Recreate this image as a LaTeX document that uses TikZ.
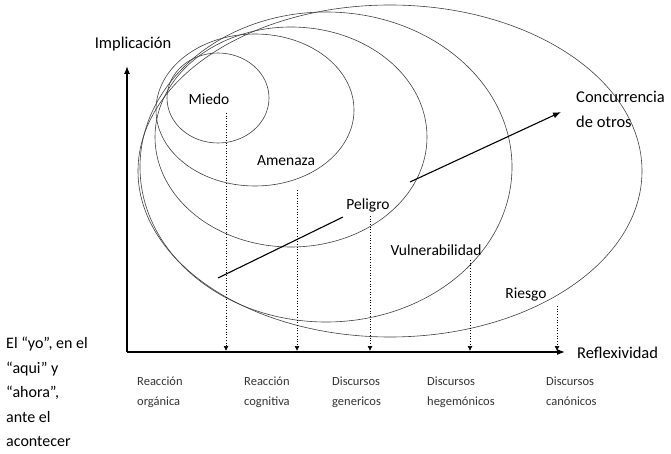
\documentclass[tikz,border=0pt]{standalone}
\usepackage{fontspec}
\setmainfont{Carlito}
\usetikzlibrary{arrows.meta}
\begin{document}
\begin{tikzpicture}[x=1pt,y=-1pt,
  ell/.style={draw=black!75, line width=0.6pt},
  axisline/.style={line width=1.3pt, -{Latex[length=8pt,width=6pt]}},
  drop/.style={dotted, line width=0.7pt, -{Latex[length=5pt,width=5pt]}},
  bigtxt/.style={font=\fontsize{16.5}{25}\selectfont, inner sep=0pt, align=left},
  lbl/.style={font=\fontsize{15.5}{17}\selectfont, inner sep=1pt},
  smalltxt/.style={font=\fontsize{12.5}{20}\selectfont, align=left, inner sep=0pt, text=black!80},
  flow/.style={line width=1.1pt}
]
\useasboundingbox (0,0) rectangle (671,454);

% nested ellipses
\draw[ell] (390,171) ellipse [x radius=252, y radius=166];
\draw[ell] (326,167) ellipse [x radius=186, y radius=155];
\draw[ell] (291,137) ellipse [x radius=136, y radius=110];
\draw[ell] (255,110) ellipse [x radius=99, y radius=76];
\draw[ell] (218,98) ellipse [x radius=51, y radius=45];

% axes
\coordinate (O) at (127,352);
\coordinate (Ytop) at (127,66);
\coordinate (Xend) at (565,352);
\draw[axisline] (O) -- (Ytop);
\draw[axisline] (O) -- (Xend);

% labels in ellipses
\node[lbl] (miedo) at (209,99) {Miedo};
\node[lbl] (amenaza) at (286,161) {Amenaza};
\node[lbl] (peligro) at (368,205) {Peligro};
\node[lbl] (vuln) at (436,250) {Vulnerabilidad};
\node[lbl] (riesgo) at (526,294) {Riesgo};

% dotted drops
\coordinate (d1t) at (226,113); \coordinate (d1b) at (226,351);
\coordinate (d2t) at (297,190); \coordinate (d2b) at (297,351);
\coordinate (d3t) at (370,216); \coordinate (d3b) at (370,351);
\coordinate (d4t) at (470,260); \coordinate (d4b) at (470,351);
\coordinate (d5t) at (557,306); \coordinate (d5b) at (557,351);
\draw[drop] (d1t) -- (d1b);
\draw[drop] (d2t) -- (d2b);
\draw[drop] (d3t) -- (d3b);
\draw[drop] (d4t) -- (d4b);
\draw[drop] (d5t) -- (d5b);

% diagonal arrow
\coordinate (a1) at (218,278);
\coordinate (a2) at (343,217);
\coordinate (a3) at (410,182);
\coordinate (a4) at (561,112);
\draw[flow] (a1) -- (a2);
\draw[flow, -{Latex[length=8pt,width=6pt]}] (a3) -- (a4);

% axis labels
\node[bigtxt, anchor=center] (impl) at (133,44) {Implicación};
\node[bigtxt, anchor=west] (refl) at (577,353) {Reflexividad};
\node[bigtxt, anchor=north west] (conc) at (576,91) {Concurrencia\\de otros};

% left text
\node[font=\fontsize{16}{24.5}\selectfont, align=left, inner sep=0pt, anchor=north west] (yo) at (6,337)
  {El “yo”, en el\\“aqui” y\\“ahora”,\\ante el\\acontecer};

% bottom labels
\node[smalltxt, anchor=north west] (b1) at (137,377) {Reacción\\orgánica};
\node[smalltxt, anchor=north west] (b2) at (244,377) {Reacción\\cognitiva};
\node[smalltxt, anchor=north west] (b3) at (332,377) {Discursos\\genericos};
\node[smalltxt, anchor=north west] (b4) at (427,377) {Discursos\\hegemónicos};
\node[smalltxt, anchor=north west] (b5) at (546,377) {Discursos\\canónicos};
\end{tikzpicture}
\end{document}
